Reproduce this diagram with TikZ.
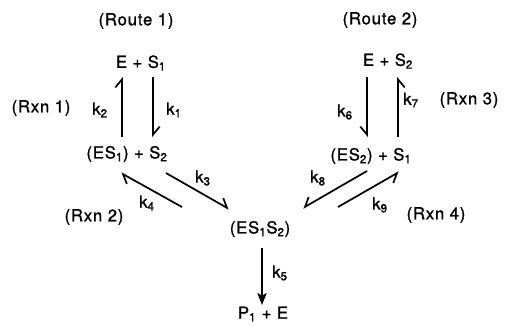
\documentclass[tikz,border=0pt]{standalone}
\usepackage{fontspec}
\setmainfont{TeX Gyre Heros}[LetterSpace=5, FakeBold=1.2]
\usepackage{tikz}
\usetikzlibrary{arrows.meta}

\tikzset{
	species/.style={font=\fontsize{12.5}{14}\selectfont, inner sep=1pt},
	note/.style={font=\fontsize{12.5}{14}\selectfont, inner sep=1pt},
	rate/.style={font=\fontsize{12.5}{14}\selectfont, inner sep=0pt},
	harp/.style={line width=1.3pt, -{Straight Barb[harpoon,length=6pt,width=10pt]}},
	harpsw/.style={line width=1.3pt, -{Straight Barb[harpoon,swap,length=6pt,width=10pt]}},
	full/.style={line width=1.3pt, -{Stealth[length=9pt,width=7pt,inset=2pt]}}
}

\begin{document}
\begin{tikzpicture}[x=0.75pt, y=-0.75pt]
\useasboundingbox (0,0) rectangle (509,326);

% species
\node[note] (route1) at (136,21) {(Route 1)};
\node[note] (route2) at (380,20) {(Route 2)};
\node[species] (top1) at (141,63) {E + S\textsubscript{1}};
\node[species] (top2) at (388,61) {E + S\textsubscript{2}};
\node[species] (es1) at (127,154) {(ES\textsubscript{1}) + S\textsubscript{2}};
\node[species] (es2) at (371,156) {(ES\textsubscript{2}) + S\textsubscript{1}};
\node[species] (es1s2) at (260,229) {(ES\textsubscript{1}S\textsubscript{2})};
\node[species] (prod) at (263,314) {P\textsubscript{1} + E};

% reaction labels
\node[note] (rxn1) at (41,108) {(Rxn 1)};
\node[note] (rxn2) at (94,217) {(Rxn 2)};
\node[note] (rxn3) at (469,100) {(Rxn 3)};
\node[note] (rxn4) at (436,215) {(Rxn 4)};

% rate constants
\foreach \i/\x/\y in {1/174/110, 2/100/110, 3/203/178, 4/147/203, 5/280/273,
	6/345/112, 7/411/100, 8/318/178, 9/380/205}
{
	\node[rate] (k\i) at (\x,\y) {k\textsubscript{\i}};
}

% route 1
\draw[harp] ([shift={(-5,-17)}]es1.center) -- ([shift={(-19,14)}]top1.center);
\draw[harp] ([shift={(12,14)}]top1.center) -- ([shift={(26,-17)}]es1.center);
\draw[harp] ([shift={(39,19)}]es1.center) -- ([shift={(-31,-20)}]es1s2.center);
\draw[harp] ([shift={(-78,-22)}]es1s2.center) -- ([shift={(-6,19)}]es1.center);

% route 2
\draw[harpsw] ([shift={(-21,16)}]top2.center) -- ([shift={(-4,-19)}]es2.center);
\draw[harpsw] ([shift={(27,-19)}]es2.center) -- ([shift={(10,16)}]top2.center);
\draw[harpsw] ([shift={(-4,15)}]es2.center) -- ([shift={(43,-21)}]es1s2.center);
\draw[harpsw] ([shift={(78,-22)}]es1s2.center) -- ([shift={(28,16)}]es2.center);

% product
\draw[full] ([shift={(2,19)}]es1s2.center) -- ([shift={(-1,-9)}]prod.center);
\end{tikzpicture}
\end{document}
